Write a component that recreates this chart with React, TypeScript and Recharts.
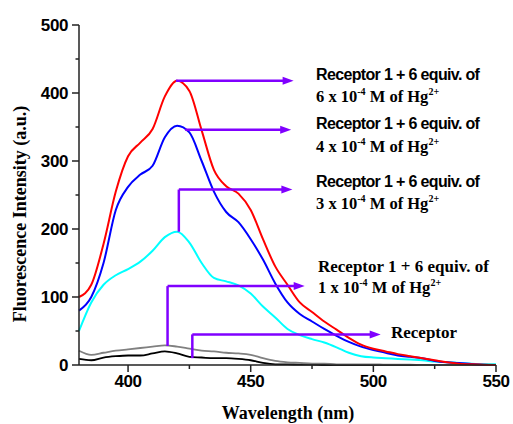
import { LineChart, Line, XAxis, YAxis, ReferenceLine, ReferenceDot } from "recharts";

const wavelength = [
  380, 385, 390, 395, 400, 405, 410, 415, 420, 425, 430, 435, 440, 445, 450, 455, 460, 465,
  470, 475, 480, 485, 490, 495, 500, 505, 510, 515, 520, 525, 530, 535, 540, 545, 550,
];
const hg6 = [
  100, 118, 178, 255, 307, 327, 347, 395, 418, 403, 345, 287, 263, 252, 228, 185, 145, 118,
  92, 78, 64, 52, 40, 30, 24, 20, 16, 13, 10, 7, 4, 2, 1, 0.5, 0,
];
const hg4 = [
  80, 100, 150, 228, 262, 280, 293, 335, 352, 342, 300, 255, 225, 210, 185, 155, 120, 92,
  75, 64, 53, 43, 34, 27, 22, 18, 14, 12, 10, 6, 4, 3, 1.5, 0.5, 0,
];
const hg3 = [
  50, 92, 118, 132, 141, 152, 168, 188, 196, 180, 150, 128, 123, 117, 105, 86, 70, 53,
  44, 38, 33, 26, 18, 13, 11, 10, 9, 8, 7, 5, 4, 3, 2, 1, 1,
];
const hg1 = [
  21, 15, 18, 21, 23, 25, 27, 29, 27, 24, 21, 20, 18, 17, 15, 10, 6, 4,
  3, 2, 2, 1, 1, 1, 1, 0.5, 0.5, 0.5, 0, 0, 0, 0, 0, 0, 0,
];
const receptor = [
  9, 7, 11, 13, 14, 14, 17, 20, 17, 12, 11, 10, 10, 9, 7, 3, 1, 1,
  0.5, 0.5, 0, 0, 0, 0, 0, 0, 0, 0, 0, 0, 0, 0, 0, 0, 0,
];

const xTicks = [400, 425, 450, 475, 500, 525, 550];
const yTicks = [0, 50, 100, 150, 200, 250, 300, 350, 400, 450, 500];

// annotation arrows: start, optional corner, tip (data units)
const arrows: { x: number; y: number }[][] = [
  [{ x: 419.5, y: 418 }, { x: 467.5, y: 418 }],
  [{ x: 423.3, y: 346 }, { x: 466.5, y: 346 }],
  [{ x: 420.7, y: 196 }, { x: 420.7, y: 258 }, { x: 467, y: 258 }],
  [{ x: 416.1, y: 28 }, { x: 416.1, y: 116 }, { x: 472, y: 116 }],
  [{ x: 426.2, y: 10 }, { x: 426.2, y: 45 }, { x: 503, y: 45 }],
];

const data = wavelength.map((w, i) => ({
  w,
  hg6: hg6[i],
  hg4: hg4[i],
  hg3: hg3[i],
  hg1: hg1[i],
  receptor: receptor[i],
}));

const PURPLE = "#8000ff";
const AXIS = "#222";
const sans = "Liberation Sans, Arial, sans-serif";
const serif = "Liberation Serif, Times New Roman, serif";

function YTick({ x, y, payload }: any) {
  const major = payload.value % 100 === 0;
  const len = major ? 7 : 3.5;
  return (
    <g>
      <line x1={x + 11 - len} x2={x + 11} y1={y} y2={y} stroke={AXIS} strokeWidth={1.5} />
      {major && (
        <text x={x} y={y + 6} textAnchor="end" fontFamily={sans} fontWeight="bold" fontSize={17} letterSpacing={-0.4} fill="#000">
          {payload.value}
        </text>
      )}
    </g>
  );
}

function XTick({ x, y, payload }: any) {
  const major = payload.value % 50 === 0;
  const len = major ? 7 : 4;
  return (
    <g>
      <line x1={x} x2={x} y1={y - 7} y2={y - 7 + len} stroke={AXIS} strokeWidth={1.5} />
      {major && (
        <text x={x} y={y + 15} textAnchor="middle" fontFamily={sans} fontWeight="bold" fontSize={17} letterSpacing={-0.4} fill="#000">
          {payload.value}
        </text>
      )}
    </g>
  );
}

const Head = (props: any) => {
  const { cx, cy } = props;
  return <polygon points={`${cx},${cy} ${cx - 11},${cy - 4} ${cx - 11},${cy + 4}`} fill={PURPLE} />;
};

function Conc({ x, y, n }: { x: number; y: number; n: string }) {
  return (
    <text x={x} y={y} fontFamily={serif} fontWeight="bold" fontSize={16.5} fill="#000">
      {n} x 10
      <tspan fontSize={10} dy={-7}>-4</tspan>
      <tspan dy={7}> M of Hg</tspan>
      <tspan fontSize={10} dy={-7}>2+</tspan>
    </text>
  );
}

function SansTitle({ x, y }: { x: number; y: number }) {
  return (
    <text x={x} y={y} fontFamily={sans} fontWeight="bold" fontSize={16} letterSpacing={-0.65} fill="#000">
      Receptor 1 + 6 equiv. of
    </text>
  );
}

export default function App() {
  return (
    <div style={{ position: "absolute", left: 0, top: 0, width: 513, height: 424, background: "#fff" }}>
      <LineChart width={513} height={424} data={data} margin={{ top: 25, right: 17, bottom: 0, left: 0 }}>
        <XAxis
          dataKey="w"
          type="number"
          domain={[380, 550]}
          ticks={xTicks}
          height={59}
          tickSize={7}
          tickMargin={0}
          tickLine={false}
          tick={<XTick />}
          axisLine={{ stroke: AXIS, strokeWidth: 1.5 }}
          interval={0}
        />
        <YAxis
          type="number"
          domain={[0, 500]}
          ticks={yTicks}
          width={79}
          tickSize={7}
          tickMargin={4}
          tickLine={false}
          tick={<YTick />}
          axisLine={{ stroke: AXIS, strokeWidth: 1.5 }}
          interval={0}
        />
        <Line dataKey="receptor" type="monotone" stroke="#000" strokeWidth={1.8} dot={false} isAnimationActive={false} />
        <Line dataKey="hg1" type="monotone" stroke="#808080" strokeWidth={1.8} dot={false} isAnimationActive={false} />
        <Line dataKey="hg3" type="monotone" stroke="#00ffff" strokeWidth={2} dot={false} isAnimationActive={false} />
        <Line dataKey="hg4" type="monotone" stroke="#0000ff" strokeWidth={2} dot={false} isAnimationActive={false} />
        <Line dataKey="hg6" type="monotone" stroke="#ff0000" strokeWidth={2} dot={false} isAnimationActive={false} />
        {arrows.map((pts, i) =>
          pts.slice(1).map((p, j) => (
            <ReferenceLine
              key={`a${i}-${j}`}
              segment={[pts[j], j === pts.length - 2 ? { x: p.x - 2, y: p.y } : p]}
              stroke={PURPLE}
              strokeWidth={2.5}
            />
          ))
        )}
        {arrows.map((pts, i) => {
          const tip = pts[pts.length - 1];
          return <ReferenceDot key={`h${i}`} x={tip.x} y={tip.y} shape={<Head />} />;
        })}
      </LineChart>
      <svg width={513} height={424} style={{ position: "absolute", left: 0, top: 0, pointerEvents: "none" }}>
        <SansTitle x={316} y={80} />
        <Conc x={316} y={102} n="6" />
        <SansTitle x={316} y={129} />
        <Conc x={316} y={152} n="4" />
        <SansTitle x={316} y={187} />
        <Conc x={316} y={209} n="3" />
        <text x={318} y={272} fontFamily={serif} fontWeight="bold" fontSize={17} fill="#000">
          Receptor 1 + 6 equiv. of
        </text>
        <Conc x={318} y={293} n="1" />
        <text x={391} y={338} fontFamily={serif} fontWeight="bold" fontSize={17} fill="#000">
          Receptor
        </text>
        <text x={288} y={419} textAnchor="middle" fontFamily={serif} fontWeight="bold" fontSize={18} fill="#000">
          Wavelength (nm)
        </text>
        <text
          x={0}
          y={0}
          transform="translate(26 214) rotate(-90)"
          textAnchor="middle"
          fontFamily={serif}
          fontWeight="bold"
          fontSize={18}
          fill="#000"
        >
          Fluorescence Intensity (a.u.)
        </text>
      </svg>
    </div>
  );
}
